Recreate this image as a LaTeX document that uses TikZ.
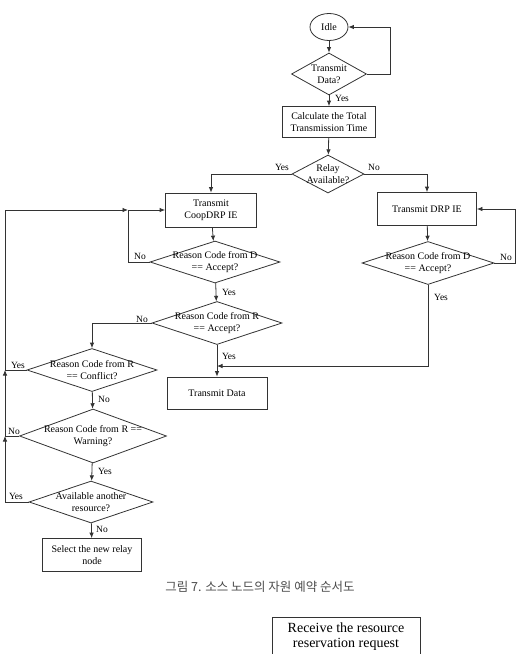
\documentclass[tikz,border=0pt]{standalone}
\usepackage{fontspec}
\setmainfont{Liberation Serif}
\newfontfamily\krfont{Noto Sans CJK KR}
\usetikzlibrary{shapes.geometric,arrows.meta}
\begin{document}
\begin{tikzpicture}[x=1pt,y=-1pt,
  ln/.style={draw=black!80,line width=0.8pt},
  arr/.style={ln,-{Latex[length=5.5pt,width=4.5pt]}},
  box/.style={ln,rectangle,inner sep=0pt},
  dia/.style={ln,diamond,inner sep=0pt},
  txt/.style={align=center,font=\fontsize{10}{12}\selectfont,inner sep=0pt},
  lbl/.style={font=\fontsize{9.5}{11}\selectfont,inner sep=1pt}]
\useasboundingbox (0,0) rectangle (525,654);
\clip (0,0) rectangle (525,654);
% nodes
\node[ln,ellipse,minimum width=38pt,minimum height=27pt,inner sep=0pt] (idle) at (329,27) {};
\node[txt] (idlet) at (idle) {Idle};
\node[dia,minimum width=75pt,minimum height=42pt] (td) at (329,74) {};
\node[txt] (tdt) at (td) {Transmit\\Data?};
\node[box,minimum width=93pt,minimum height=31pt] (calc) at (329,122) {};
\node[txt] (calct) at (calc) {Calculate the Total\\Transmission Time};
\node[dia,minimum width=72pt,minimum height=38pt] (relay) at (328,174) {};
\node[txt] (relayt) at (relay) {Relay\\Available?};
\node[box,minimum width=91pt,minimum height=34pt] (coop) at (211,210) {};
\node[txt] (coopt) at (coop) {Transmit\\CoopDRP IE};
\node[box,minimum width=99pt,minimum height=33pt] (drp) at (427,209) {};
\node[txt] (drpt) at (drp) {Transmit DRP IE};
\node[dia,minimum width=130pt,minimum height=42pt] (dD) at (215,262) {};
\node[txt] (dDt) at (dD) {Reason Code from D\\== Accept?};
\node[dia,minimum width=132pt,minimum height=43pt] (dD2) at (428,263) {};
\node[txt] (dD2t) at (dD2) {Reason Code from D\\== Accept?};
\node[dia,minimum width=130pt,minimum height=43pt] (dR) at (217,323) {};
\node[txt] (dRt) at (dR) {Reason Code from R\\== Accept?};
\node[box,minimum width=100pt,minimum height=32pt] (tdata) at (217,393) {};
\node[txt] (tdatat) at (tdata) {Transmit Data};
\node[dia,minimum width=130pt,minimum height=43pt] (conf) at (92,370) {};
\node[txt] (conft) at (conf) {Reason Code from R\\== Conflict?};
\node[dia,minimum width=147pt,minimum height=54pt] (warn) at (93,436) {};
\node[txt] (warnt) at (warn) {Reason Code from R ==\\Warning?};
\node[dia,minimum width=124pt,minimum height=42pt] (avail) at (91,502) {};
\node[txt] (availt) at (avail) {Available another\\resource?};
\node[box,minimum width=99pt,minimum height=33pt] (sel) at (92,555) {};
\node[txt] (selt) at (sel) {Select the new relay\\node};
% junction coordinates
\coordinate (jL) at (128,210);
\coordinate (jC) at (5,370);
\coordinate (jW) at (5,436);
\coordinate (jT) at (217,366);
% connectors
\draw[arr] (idle) -- (td);
\draw[arr] (td.east) -- (390,74) |- (idle.east);
\draw[arr] (td) -- (calc);
\draw[arr] (calc) -- (relay);
\draw[arr] (relay.west) -| (coop.north);
\draw[arr] (relay.east) -| (drp.north);
\draw[arr] (coop) -- (dD);
\draw[arr] (dD.west) -- (128,262) |- (coop.west);
\draw[arr] (dD) -- (dR);
\draw[arr] (dR) -- (tdata);
\draw[arr] (dR.west) -| (conf.north);
\draw[arr] (conf.west) -- (jC) |- (jL);
\draw[arr] (conf) -- (warn);
\draw[arr] (warn.west) -- (jW) -- (jC);
\draw[arr] (warn) -- (avail);
\draw[arr] (avail.west) -- (5,502) -- (jW);
\draw[arr] (avail) -- (sel);
\draw[arr] (drp) -- (dD2);
\draw[arr] (dD2.east) -- (515,263) |- (drp.east);
\draw[arr] (dD2.south) |- (jT);
% labels
\node[lbl] (l1) at (342,98) {Yes};
\node[lbl] (l2) at (282,167) {Yes};
\node[lbl] (l3) at (374,167) {No};
\node[lbl] (l4) at (140,256) {No};
\node[lbl] (l5) at (506,257) {No};
\node[lbl] (l6) at (229,292) {Yes};
\node[lbl] (l7) at (441,297) {Yes};
\node[lbl] (l8) at (142,319) {No};
\node[lbl] (l9) at (229,356) {Yes};
\node[lbl] (l10) at (18,365) {Yes};
\node[lbl] (l11) at (104,399) {No};
\node[lbl] (l12) at (14,431) {No};
\node[lbl] (l13) at (105,471) {Yes};
\node[lbl] (l14) at (16,496) {Yes};
\node[lbl] (l15) at (102,529) {No};
% caption
\node[font=\krfont\fontsize{12.5}{14}\selectfont,text=black!70,inner sep=0pt] (cap) at (260,587) {그림 7. 소스 노드의 자원 예약 순서도};
% bottom box
\node[box,minimum width=148pt,minimum height=50pt] (recv) at (346,642) {};
\node[txt,font=\fontsize{14}{15}\selectfont] (recvt) at (346,637) {Receive the resource\\reservation request};
\end{tikzpicture}
\end{document}
